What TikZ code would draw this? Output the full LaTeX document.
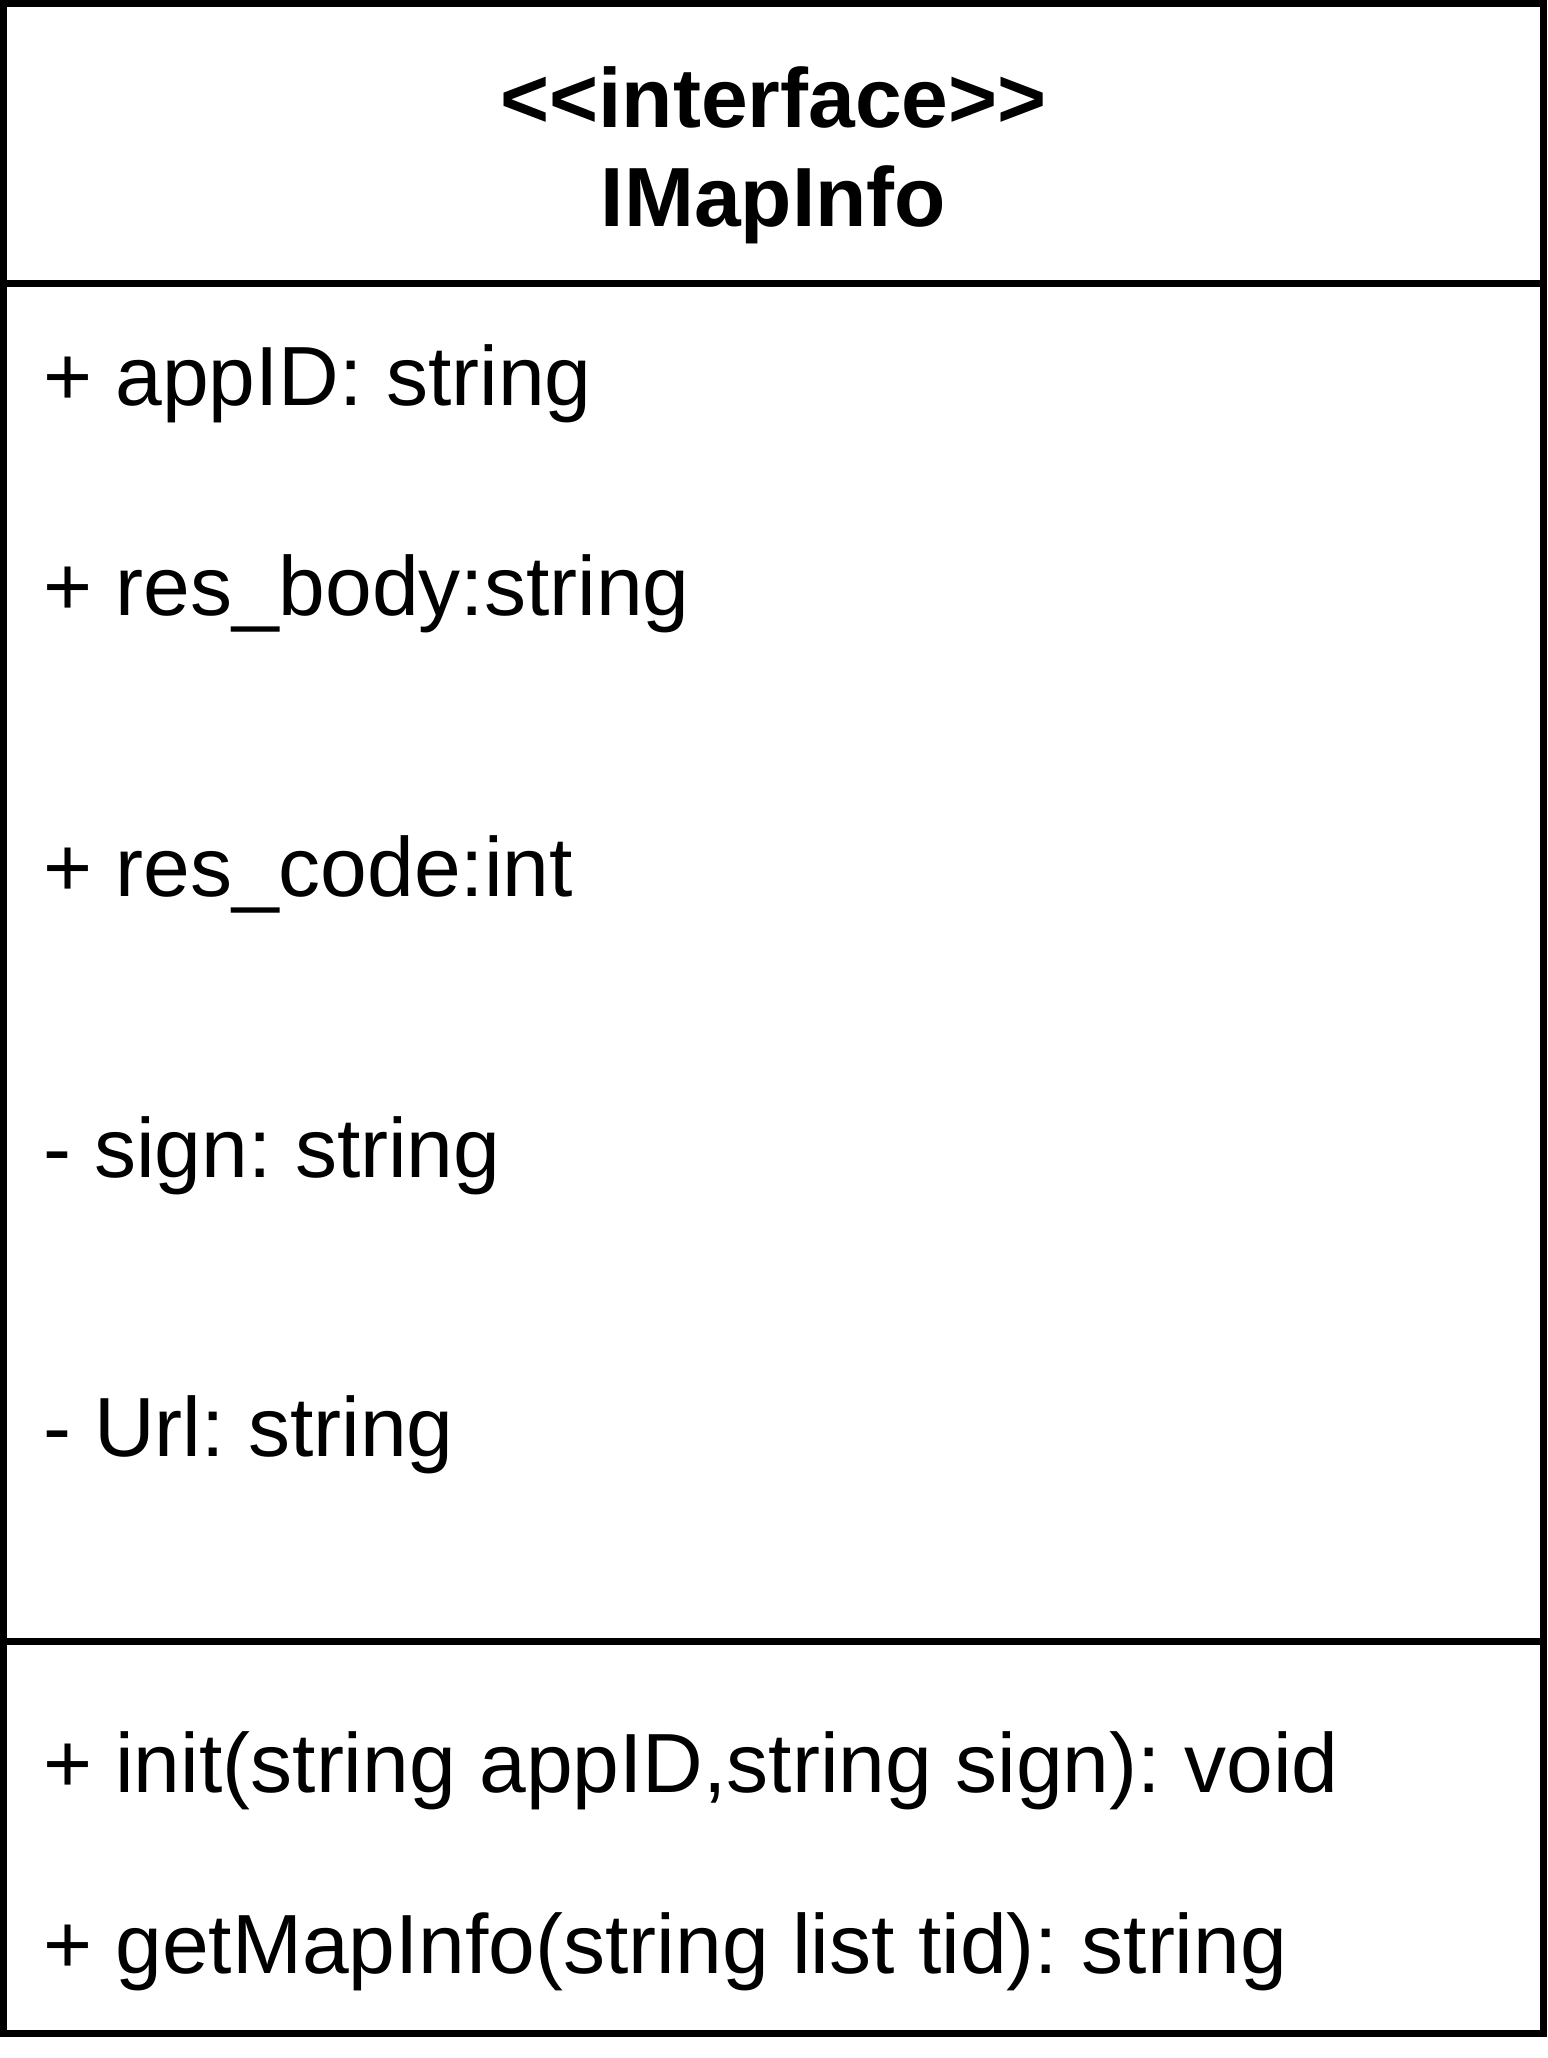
\documentclass[tikz,border=0pt]{standalone}
\usepackage{fontspec}
\setmainfont{Liberation Sans}
\begin{document}
\frenchspacing
\begin{tikzpicture}[x=1pt,y=-1pt,
  txt/.style={inner sep=0pt,outer sep=0pt,font=\fontsize{84}{100}\selectfont\frenchspacing},
  member/.style={txt,anchor=base west},
  head/.style={txt,anchor=base,font=\fontsize{84}{100}\selectfont\bfseries},
  border/.style={line width=7.5pt,draw=black}]
\useasboundingbox (0,0) rectangle (1547,2058);
\fill[white] (0,0) rectangle (1547,2058);
\draw[border] (3.5,3.5) rectangle (1543.5,2033.5);
\draw[border] (0,283.5) coordinate (d1l) -- (1547,283.5) coordinate (d1r);
\draw[border] (0,1641.5) coordinate (d2l) -- (1547,1641.5) coordinate (d2r);
\node[head] (stereo) at (773.5,127) {{<}{<}interface{>}{>}};
\node[head] (name) at (773.5,226) {IMapInfo};
\node[member] (a1) at (43,405) {+ appID: string};
\node[member] (a2) at (43,615) {+ res\_body:string};
\node[member] (a3) at (43,896) {+ res\_code:int};
\node[member] (a4) at (43,1177) {- sign: string};
\node[member] (a5) at (43,1456) {- Url: string};
\node[member] (m1) at (43,1792) {+ init(string appID,string sign): void};
\node[member] (m2) at (43,1973) {+ getMapInfo(string list tid): string};
\end{tikzpicture}
\end{document}
